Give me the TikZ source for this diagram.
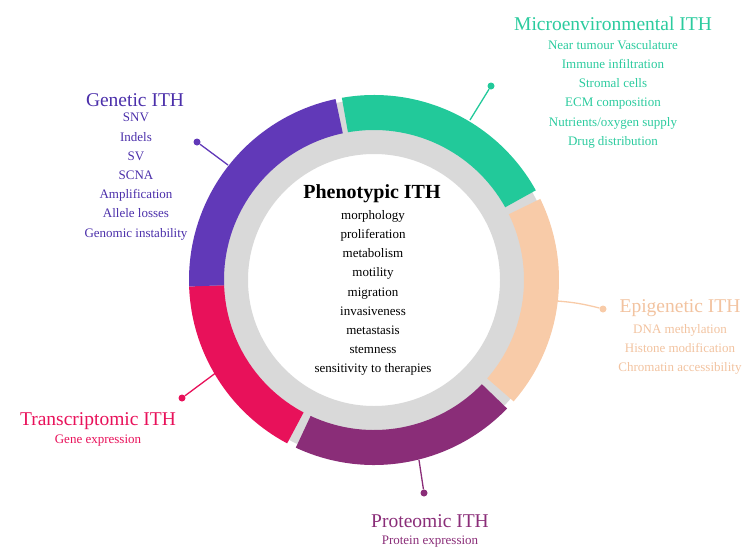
\documentclass[tikz,border=0pt]{standalone}
\usepackage{fontspec}
\setmainfont{Liberation Serif}
\usetikzlibrary{calc}
\definecolor{cgreen}{HTML}{22C99A}
\definecolor{cviolet}{HTML}{6139B8}
\definecolor{cpeach}{HTML}{F8CBA8}
\definecolor{cred}{HTML}{E8115A}
\definecolor{cpurple}{HTML}{8A2D78}
\definecolor{cgray}{HTML}{D9D9D9}
\definecolor{tgreen}{HTML}{2BCB9E}
\definecolor{tviolet}{HTML}{4B2FAA}
\definecolor{tpeach}{HTML}{F2C3A0}
\newcommand{\myseg}[3]{\fill[#1] ($(c)+(#2:150)$) arc[start angle=#2,end angle=#3,radius=150] -- ($(c)+(#3:185)$) arc[start angle=#3,end angle=#2,radius=185] -- cycle;}
\begin{document}
\begin{tikzpicture}[x=1pt,y=1pt,
  ttl/.style={font=\fontsize{19.5}{21}\selectfont, inner sep=0pt},
  sub/.style={font=\fontsize{13}{19.2}\selectfont, align=center, inner sep=0pt, anchor=north},
  dot/.style={circle, inner sep=0pt, minimum size=7pt},
  lnk/.style={line width=1.3pt}]
\useasboundingbox (0,0) rectangle (753,-560);
\coordinate (c) at (374,-280);
\fill[cgray, even odd rule] (c) circle (181) (c) circle (126);
\myseg{cgreen}{29}{100}
\myseg{cpeach}{-41}{26}
\myseg{cpurple}{-115}{-44}
\myseg{cred}{-178}{-118}
\myseg{cviolet}{102}{182}
% callouts
\coordinate (gA) at (228,-165); \node[dot,fill=cviolet] (gD) at (197,-142) {};
\draw[lnk,cviolet] (gA) -- (gD);
\coordinate (mA) at (470,-120); \node[dot,fill=cgreen] (mD) at (491,-86) {};
\draw[lnk,cgreen] (mA) -- (mD);
\coordinate (tA) at (217,-372); \node[dot,fill=cred] (tD) at (182,-398) {};
\draw[lnk,cred] (tA) -- (tD);
\coordinate (pA) at (419,-460); \node[dot,fill=cpurple] (pD) at (424,-493) {};
\draw[lnk,cpurple] (pA) -- (pD);
\coordinate (eA) at (557,-301); \node[dot,fill=cpeach] (eD) at (603,-309) {};
\draw[lnk,cpeach] (eA) to[bend left=5] (eD);
% texts
\node[ttl,text=tgreen] (mT) at (613,-24) {Microenvironmental ITH};
\node[sub,text=tgreen] (mS) at (613,-40) {Near tumour Vasculature\\Immune infiltration\\Stromal cells\\ECM composition\\Nutrients/oxygen supply\\Drug distribution};
\node[ttl,text=tviolet] (gT) at (135,-100) {Genetic ITH};
\node[sub,text=tviolet] (gS) at (136,-113) {SNV\\Indels\\SV\\SCNA\\Amplification\\Allele losses\\Genomic instability};
\node[ttl,font=\fontsize{20}{22}\selectfont\bfseries] (phT) at (372,-194) {Phenotypic ITH};
\node[sub] (phS) at (373,-210) {morphology\\proliferation\\metabolism\\motility\\migration\\invasiveness\\metastasis\\stemness\\sensitivity to therapies};
\node[ttl,text=tpeach] (eT) at (680,-308) {Epigenetic ITH};
\node[sub,text=tpeach] (eS) at (680,-324) {DNA methylation\\Histone modification\\Chromatin accessibility};
\node[ttl,text=cred] (tT) at (98,-421) {Transcriptomic ITH};
\node[sub,text=cred] (tS) at (98,-435) {Gene expression};
\node[ttl,text=cpurple] (pT) at (430,-521) {Proteomic ITH};
\node[sub,text=cpurple] (pS) at (430,-536) {Protein expression};
\end{tikzpicture}
\end{document}
